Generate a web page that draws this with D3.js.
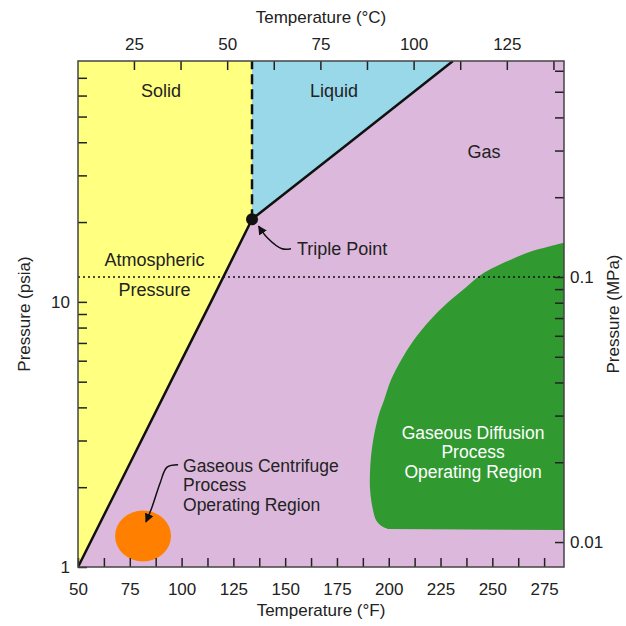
<!DOCTYPE html>
<html>
<head>
<meta charset="utf-8">
<script src="https://cdn.jsdelivr.net/npm/d3@7"></script>
<style>
  html, body { margin: 0; padding: 0; background: #fff; }
  svg text { font-family: "Liberation Sans", Arial, Helvetica, sans-serif; fill: #222; }
</style>
</head>
<body>
<div id="chart"></div>
<script>
// axis domains: temperature in °F, pressure in psia (left) and MPa (right)
const tempDomainF = [50, 284.6];
const psiaDomain = [1, 81];
const mpaDomain = [0.00805, 0.653];

// ticks and tick labels
const fTicks = d3.range(50, 284, 12.5);
const fLabels = [50, 75, 100, 125, 150, 175, 200, 225, 250, 275];
const cTicks = d3.range(25, 140, 12.5);
const cLabels = [25, 50, 75, 100, 125];
const psiaTicks = [1, 2, 3, 4, 5, 6, 7, 8, 9, 10, 20, 30, 40, 50, 60, 70];
const psiaLabels = [1, 10];
const mpaTicks = [0.01, 0.02, 0.03, 0.04, 0.05, 0.06, 0.07, 0.08, 0.09, 0.1, 0.2, 0.3, 0.4, 0.5, 0.6];
const mpaLabels = [0.01, 0.1];

// phase boundaries (°F, psia)
const sublimationF = [50, 69.3, 94.8, 114.2, 134];
const sublimationP = [1, 2, 5, 10, 20.5];
const vaporF = [134, 181.3, 231];
const vaporP = [20.5, 40, 81];
const triplePoint = [134, 20.5];
const atmosphereMPa = 0.1;

// gaseous diffusion operating region outline (°F, psia)
const diffusionF = [284.67, 276.9, 268.25, 258.6, 246.0, 236.9, 228.2, 220.0, 212.2, 206.0,
    201.1, 197.8, 194.9, 192.0, 191.0, 191.0, 192.4, 193.9, 196.3, 199.7];
const diffusionP = [16.7, 16.13, 15.44, 14.4, 12.87, 11.29, 9.91, 8.55, 7.19, 6.04,
    5.08, 4.27, 3.68, 2.84, 2.32, 1.95, 1.64, 1.50, 1.43, 1.39];
const diffusionBottom = [284.67, 1.38];

// gaseous centrifuge operating region (°F range, psia range)
const centrifugeF = [67.9, 94.9];
const centrifugeP = [1.049, 1.634];

// annotation text and arrows (°F, psia)
const phaseNames = ["Solid", "Liquid", "Gas"];
const phaseNameF = [90.1, 173.6, 246];
const phaseNameP = [62.5, 62.5, 36.8];
const atmText = ["Atmospheric", "Pressure"];
const atmTextF = 86.9;
const atmTextP = [14.4, 11.1];
const tripleText = "Triple Point";
const tripleTextAt = [155.7, 15.85];
const tripleArrowF = [152.8, 148.5, 141.5, 137.2];
const tripleArrowP = [15.85, 15.85, 17.4, 19.3];
const centrifugeText = ["Gaseous Centrifuge", "Process", "Operating Region"];
const centrifugeTextF = 100.7;
const centrifugeTextP = [2.415, 2.039, 1.721];
const centrifugeArrowF = [98.3, 93.0, 89.6, 85.7, 82.8];
const centrifugeArrowP = [2.43, 2.38, 2.07, 1.68, 1.48];
const diffusionText = ["Gaseous Diffusion", "Process", "Operating Region"];
const diffusionTextF = 240.7;
const diffusionTextP = [3.217, 2.716, 2.293];

const w = 626, h = 626;
const mLeft = 78, mRight = 564, mTop = 61, mBottom = 567;

const x = d3.scaleLinear().domain(tempDomainF).range([mLeft, mRight]);
const xC = d3.scaleLinear().domain(tempDomainF.map(f => (f - 32) / 1.8)).range([mLeft, mRight]);
const y = d3.scaleLog().domain(psiaDomain).range([mBottom, mTop]);
const yM = d3.scaleLog().domain(mpaDomain).range([mBottom, mTop]);

const svg = d3.select("#chart").append("svg")
    .attr("width", w)
    .attr("height", h);

const defs = svg.append("defs");
defs.append("clipPath").attr("id", "plot")
    .append("rect")
    .attr("x", mLeft).attr("y", mTop)
    .attr("width", mRight - mLeft).attr("height", mBottom - mTop);

defs.append("marker")
    .attr("id", "head")
    .attr("viewBox", "0 0 10 10")
    .attr("refX", 9).attr("refY", 5)
    .attr("markerWidth", 9).attr("markerHeight", 9)
    .attr("markerUnits", "userSpaceOnUse")
    .attr("orient", "auto")
    .append("path")
    .attr("d", "M0,0 L10,5 L0,10 z")
    .attr("fill", "#111");

const plot = svg.append("g").attr("clip-path", "url(#plot)");

// gas = background
plot.append("rect")
    .attr("x", mLeft).attr("y", mTop)
    .attr("width", mRight - mLeft).attr("height", mBottom - mTop)
    .attr("fill", "#dcb9dc");

const line = d3.line().x(d => x(d[0])).y(d => y(d[1]));
const subPts = sublimationF.map((f, i) => [f, sublimationP[i]]);
const vapPts = vaporF.map((f, i) => [f, vaporP[i]]);

// solid region
const solidPts = subPts.concat([[triplePoint[0], psiaDomain[1]], [tempDomainF[0], psiaDomain[1]]]);
plot.append("path")
    .attr("d", line(solidPts) + "Z")
    .attr("fill", "#ffff80");

// liquid region
plot.append("path")
    .attr("d", line([[triplePoint[0], psiaDomain[1]]].concat(vapPts.slice().reverse())) + "Z")
    .attr("fill", "#99d8e8");

// diffusion region
const curve = d3.line().x(d => x(d[0])).y(d => y(d[1])).curve(d3.curveCatmullRom.alpha(0.5));
const diffPts = diffusionF.map((f, i) => [f, diffusionP[i]]);
plot.append("path")
    .attr("d", curve(diffPts) + "L" + x(diffusionBottom[0]) + "," + y(diffusionBottom[1]) + "Z")
    .attr("fill", "#309a30");

// centrifuge region
plot.append("ellipse")
    .attr("cx", (x(centrifugeF[0]) + x(centrifugeF[1])) / 2)
    .attr("cy", (y(centrifugeP[0]) + y(centrifugeP[1])) / 2)
    .attr("rx", (x(centrifugeF[1]) - x(centrifugeF[0])) / 2)
    .attr("ry", (y(centrifugeP[0]) - y(centrifugeP[1])) / 2)
    .attr("fill", "#ff8000");

// atmospheric pressure dotted line
plot.append("line")
    .attr("x1", mLeft).attr("x2", mRight)
    .attr("y1", yM(atmosphereMPa)).attr("y2", yM(atmosphereMPa))
    .attr("stroke", "#111")
    .attr("stroke-width", 1.3)
    .attr("stroke-dasharray", "2,3");

// phase boundaries
plot.append("path")
    .attr("d", line(subPts))
    .attr("fill", "none").attr("stroke", "#111").attr("stroke-width", 2.5);
plot.append("path")
    .attr("d", line(vapPts))
    .attr("fill", "none").attr("stroke", "#111").attr("stroke-width", 2.5);
plot.append("line")
    .attr("x1", x(triplePoint[0])).attr("x2", x(triplePoint[0]))
    .attr("y1", y(triplePoint[1])).attr("y2", y(psiaDomain[1]))
    .attr("stroke", "#111").attr("stroke-width", 2.5)
    .attr("stroke-dasharray", "10,5");

plot.append("circle")
    .attr("cx", x(triplePoint[0])).attr("cy", y(triplePoint[1]))
    .attr("r", 6).attr("fill", "#111");

// labels
const fontSize = 17;
const labelSize = 18;
const blockSize = 17.5;
plot.selectAll(".phase")
    .data(phaseNames)
    .enter()
    .append("text")
    .attr("class", "phase")
    .attr("x", (d, i) => x(phaseNameF[i]))
    .attr("y", (d, i) => y(phaseNameP[i]))
    .attr("dy", "0.35em")
    .attr("text-anchor", "middle")
    .attr("font-size", labelSize)
    .text(d => d);

plot.selectAll(".atm")
    .data(atmText)
    .enter()
    .append("text")
    .attr("x", x(atmTextF))
    .attr("y", (d, i) => y(atmTextP[i]))
    .attr("dy", "0.35em")
    .attr("text-anchor", "middle")
    .attr("font-size", labelSize)
    .text(d => d);

plot.append("text")
    .attr("x", x(tripleTextAt[0]))
    .attr("y", y(tripleTextAt[1]))
    .attr("dy", "0.35em")
    .attr("font-size", labelSize)
    .text(tripleText);

const arrowLine = d3.line().x(d => x(d[0])).y(d => y(d[1])).curve(d3.curveCatmullRom);
svg.append("path")
    .attr("d", arrowLine(tripleArrowF.map((f, i) => [f, tripleArrowP[i]])))
    .attr("fill", "none").attr("stroke", "#111").attr("stroke-width", 1.5)
    .attr("marker-end", "url(#head)");

plot.selectAll(".cent")
    .data(centrifugeText)
    .enter()
    .append("text")
    .attr("x", x(centrifugeTextF))
    .attr("y", (d, i) => y(centrifugeTextP[i]))
    .attr("dy", "0.35em")
    .attr("font-size", blockSize)
    .text(d => d);

svg.append("path")
    .attr("d", arrowLine(centrifugeArrowF.map((f, i) => [f, centrifugeArrowP[i]])))
    .attr("fill", "none").attr("stroke", "#111").attr("stroke-width", 1.5)
    .attr("marker-end", "url(#head)");

plot.selectAll(".diff")
    .data(diffusionText)
    .enter()
    .append("text")
    .attr("x", x(diffusionTextF))
    .attr("y", (d, i) => y(diffusionTextP[i]))
    .attr("dy", "0.35em")
    .attr("text-anchor", "middle")
    .attr("font-size", blockSize)
    .style("fill", "#fff")
    .text(d => d);

// axes
const tickStyle = g => {
    g.select(".domain").remove();
    g.selectAll(".tick line").attr("stroke", "#222").attr("stroke-width", 1.5);
    g.selectAll(".tick text").attr("font-size", fontSize).attr("fill", "#222")
        .attr("font-family", "'Liberation Sans', Arial, sans-serif");
};

svg.append("g")
    .attr("transform", `translate(0,${mBottom})`)
    .call(d3.axisBottom(x).tickValues(fTicks).tickSizeInner(-9).tickSizeOuter(0).tickPadding(16)
        .tickFormat(d => fLabels.includes(d) ? d : ""))
    .call(tickStyle);

svg.append("g")
    .attr("transform", `translate(0,${mTop})`)
    .call(d3.axisTop(xC).tickValues(cTicks).tickSizeInner(-9).tickSizeOuter(0).tickPadding(11)
        .tickFormat(d => cLabels.includes(d) ? d : ""))
    .call(tickStyle);

svg.append("g")
    .attr("transform", `translate(${mLeft},0)`)
    .call(d3.axisLeft(y).tickValues(psiaTicks).tickSizeInner(-9).tickSizeOuter(0).tickPadding(8)
        .tickFormat(d => psiaLabels.includes(d) ? d : ""))
    .call(tickStyle);

svg.append("g")
    .attr("transform", `translate(${mRight},0)`)
    .call(d3.axisRight(yM).tickValues(mpaTicks).tickSizeInner(-9).tickSizeOuter(0).tickPadding(6)
        .tickFormat(d => mpaLabels.includes(d) ? d : ""))
    .call(tickStyle);

// frame
svg.append("rect")
    .attr("x", mLeft).attr("y", mTop)
    .attr("width", mRight - mLeft).attr("height", mBottom - mTop)
    .attr("fill", "none")
    .attr("stroke", "#444")
    .attr("stroke-width", 1.5);

// axis titles
svg.append("text")
    .attr("x", (mLeft + mRight) / 2).attr("y", 17)
    .attr("dy", "0.35em")
    .attr("text-anchor", "middle")
    .attr("font-size", fontSize)
    .text("Temperature (°C)");

svg.append("text")
    .attr("x", (mLeft + mRight) / 2).attr("y", 610)
    .attr("dy", "0.35em")
    .attr("text-anchor", "middle")
    .attr("font-size", fontSize)
    .text("Temperature (°F)");

svg.append("text")
    .attr("transform", "translate(24,314) rotate(-90)")
    .attr("dy", "0.35em")
    .attr("text-anchor", "middle")
    .attr("font-size", fontSize)
    .text("Pressure (psia)");

svg.append("text")
    .attr("transform", "translate(613,314) rotate(-90)")
    .attr("dy", "0.35em")
    .attr("text-anchor", "middle")
    .attr("font-size", fontSize)
    .text("Pressure (MPa)");
</script>
</body>
</html>
